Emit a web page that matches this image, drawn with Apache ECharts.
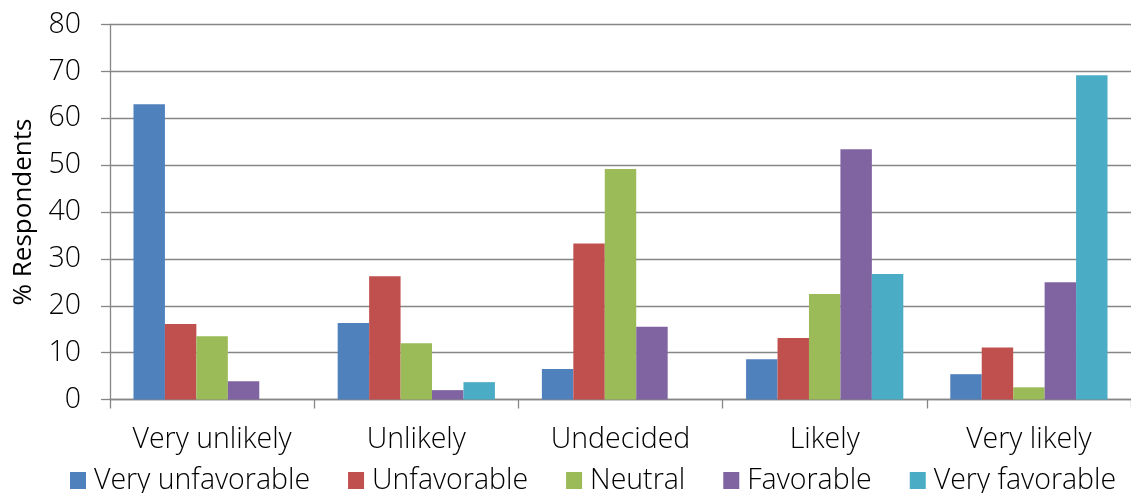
<!DOCTYPE html>
<html>
<head>
<meta charset="utf-8">
<script src="https://cdn.jsdelivr.net/npm/echarts@6/dist/echarts.min.js"></script>
<style>html,body{margin:0;padding:0;background:#fff}#c{width:1131px;height:493px}</style>
</head>
<body>
<div id="c"></div>
<script>
const categories = ['Very unlikely', 'Unlikely', 'Undecided', 'Likely', 'Very likely'];
const veryUnfavorable = [63.0, 16.3, 6.5, 8.6, 5.4];
const unfavorable = [16.1, 26.3, 33.3, 13.1, 11.1];
const neutral = [13.5, 12.0, 49.2, 22.5, 2.6];
const favorable = [3.9, 2.0, 15.5, 53.4, 25.0];
const veryFavorable = [0, 3.7, 0, 26.8, 69.2];
const seriesNames = ['Very unfavorable', 'Unfavorable', 'Neutral', 'Favorable', 'Very favorable'];
const yTicks = [0, 10, 20, 30, 40, 50, 60, 70, 80];

const colors = ['#4F81BD', '#C0504D', '#9BBB59', '#8064A2', '#4BACC6'];
const FONT = '"Open Sans", sans-serif';
const seriesData = [veryUnfavorable, unfavorable, neutral, favorable, veryFavorable];

const chart = echarts.init(document.getElementById('c'), null, {renderer: 'canvas'});
chart.setOption({
  animation: false,
  color: colors,
  textStyle: {fontFamily: FONT},
  grid: {left: 110, right: -1, top: 24.5, bottom: 93.5, containLabel: false},
  legend: {
    data: seriesNames,
    left: 65, top: 461, width: 1100,
    itemWidth: 16, itemHeight: 17, itemGap: 38,
    icon: 'rect',
    textStyle: {fontFamily: FONT, fontSize: 28.5, fontWeight: 300, color: '#000', padding: [0, 0, 0, 3]}
  },
  xAxis: {
    type: 'category',
    data: categories,
    axisLine: {lineStyle: {color: '#868686', width: 1.3}},
    axisTick: {show: true, interval: 0, length: 9, lineStyle: {color: '#868686', width: 1.3}},
    axisLabel: {interval: 0, fontFamily: FONT, fontSize: 28.5, fontWeight: 300, color: '#000', margin: 26}
  },
  yAxis: {
    type: 'value',
    min: yTicks[0], max: yTicks[yTicks.length - 1], interval: 10,
    name: '% Respondents',
    nameLocation: 'middle',
    nameGap: 73,
    nameTextStyle: {fontFamily: FONT, fontSize: 26, color: '#000'},
    axisLine: {show: true, lineStyle: {color: '#868686', width: 1.3}},
    axisTick: {show: true, length: 9, lineStyle: {color: '#868686', width: 1.3}},
    axisLabel: {fontFamily: FONT, fontSize: 28.5, fontWeight: 300, color: '#000', margin: 29},
    splitLine: {lineStyle: {color: '#868686', width: 1.3}}
  },
  series: seriesNames.map((n, i) => ({
    name: n,
    type: 'bar',
    data: seriesData[i],
    barGap: '0%',
    barCategoryGap: '23%'
  }))
});
</script>
</body>
</html>
